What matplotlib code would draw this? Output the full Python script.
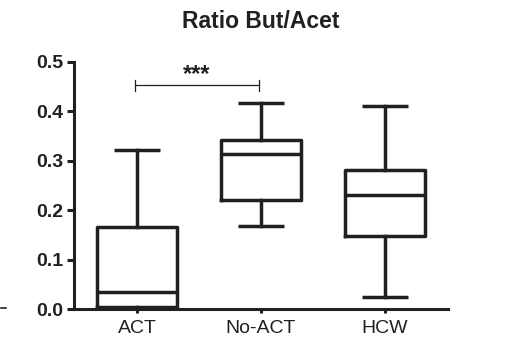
import matplotlib
matplotlib.use("Agg")
import matplotlib.pyplot as plt
from matplotlib.lines import Line2D

# =============================================================================
# DATA
# =============================================================================

GROUPS = ["ACT", "No-ACT", "HCW"]
WHISKER_LOW = [0.000, 0.168, 0.025]
Q1 = [0.005, 0.221, 0.147]
MEDIAN = [0.035, 0.313, 0.230]
Q3 = [0.166, 0.342, 0.282]
WHISKER_HIGH = [0.322, 0.417, 0.410]

SIG_PAIR = (0, 1)
SIG_LEVEL = 0.452
SIG_TEXT = "***"

INK = "#231f20"

# =============================================================================
# PLOT
# =============================================================================

plt.rcParams["font.family"] = ["Liberation Sans", "DejaVu Sans"]

fig = plt.figure(figsize=(5.31, 3.54), dpi=100)
ax = fig.add_axes([74 / 531, 1 - 309 / 354, (448 - 74) / 531, (309 - 61.7) / 354])

stats = []
for i, name in enumerate(GROUPS):
    stats.append({
        "label": name,
        "whislo": WHISKER_LOW[i],
        "q1": Q1[i],
        "med": MEDIAN[i],
        "q3": Q3[i],
        "whishi": WHISKER_HIGH[i],
    })

lw = 2.5
ax.bxp(
    stats,
    positions=range(len(GROUPS)),
    widths=0.65,
    capwidths=0.37,
    showfliers=False,
    boxprops=dict(color=INK, linewidth=lw),
    whiskerprops=dict(color=INK, linewidth=lw),
    capprops=dict(color=INK, linewidth=lw, solid_capstyle="butt"),
    medianprops=dict(color=INK, linewidth=lw),
)

# significance bracket
x0, x1 = SIG_PAIR
ax.plot([x0 - 0.02, x1 - 0.02], [SIG_LEVEL, SIG_LEVEL], color=INK, lw=0.9)
for xx in (x0 - 0.02, x1 - 0.02):
    ax.plot([xx, xx], [SIG_LEVEL - 0.012, SIG_LEVEL + 0.012], color=INK, lw=0.9)
ax.text((x0 + x1) / 2 - 0.02, SIG_LEVEL - 0.002, SIG_TEXT, ha="center", va="bottom",
        fontsize=17, fontweight="bold", color=INK)

ax.set_xlim(-0.51, 2.51)
ax.set_ylim(0, 0.5)
ax.set_yticks([0.0, 0.1, 0.2, 0.3, 0.4, 0.5])
ax.set_yticklabels(["0.0", "0.1", "0.2", "0.3", "0.4", "0.5"], fontweight="bold")
ax.set_xticks(range(len(GROUPS)))
ax.set_xticklabels(GROUPS)

for side in ("top", "right"):
    ax.spines[side].set_visible(False)
for side in ("left", "bottom"):
    ax.spines[side].set_linewidth(2.2)
    ax.spines[side].set_color(INK)

ax.tick_params(axis="y", length=5, width=2.2, colors=INK, labelsize=14, pad=3)
ax.tick_params(axis="x", length=3, width=2.2, colors=INK, labelsize=14, pad=5)

ax.set_title("Ratio But/Acet", fontsize=16.5, fontweight="bold", color=INK, pad=24)

# stray dash at the left edge of the original image
fig.add_artist(Line2D([0.002, 0.012], [1 - 308 / 354, 1 - 308 / 354],
                      transform=fig.transFigure, color=INK, lw=1.2))

fig.savefig("out.png", dpi=100)
